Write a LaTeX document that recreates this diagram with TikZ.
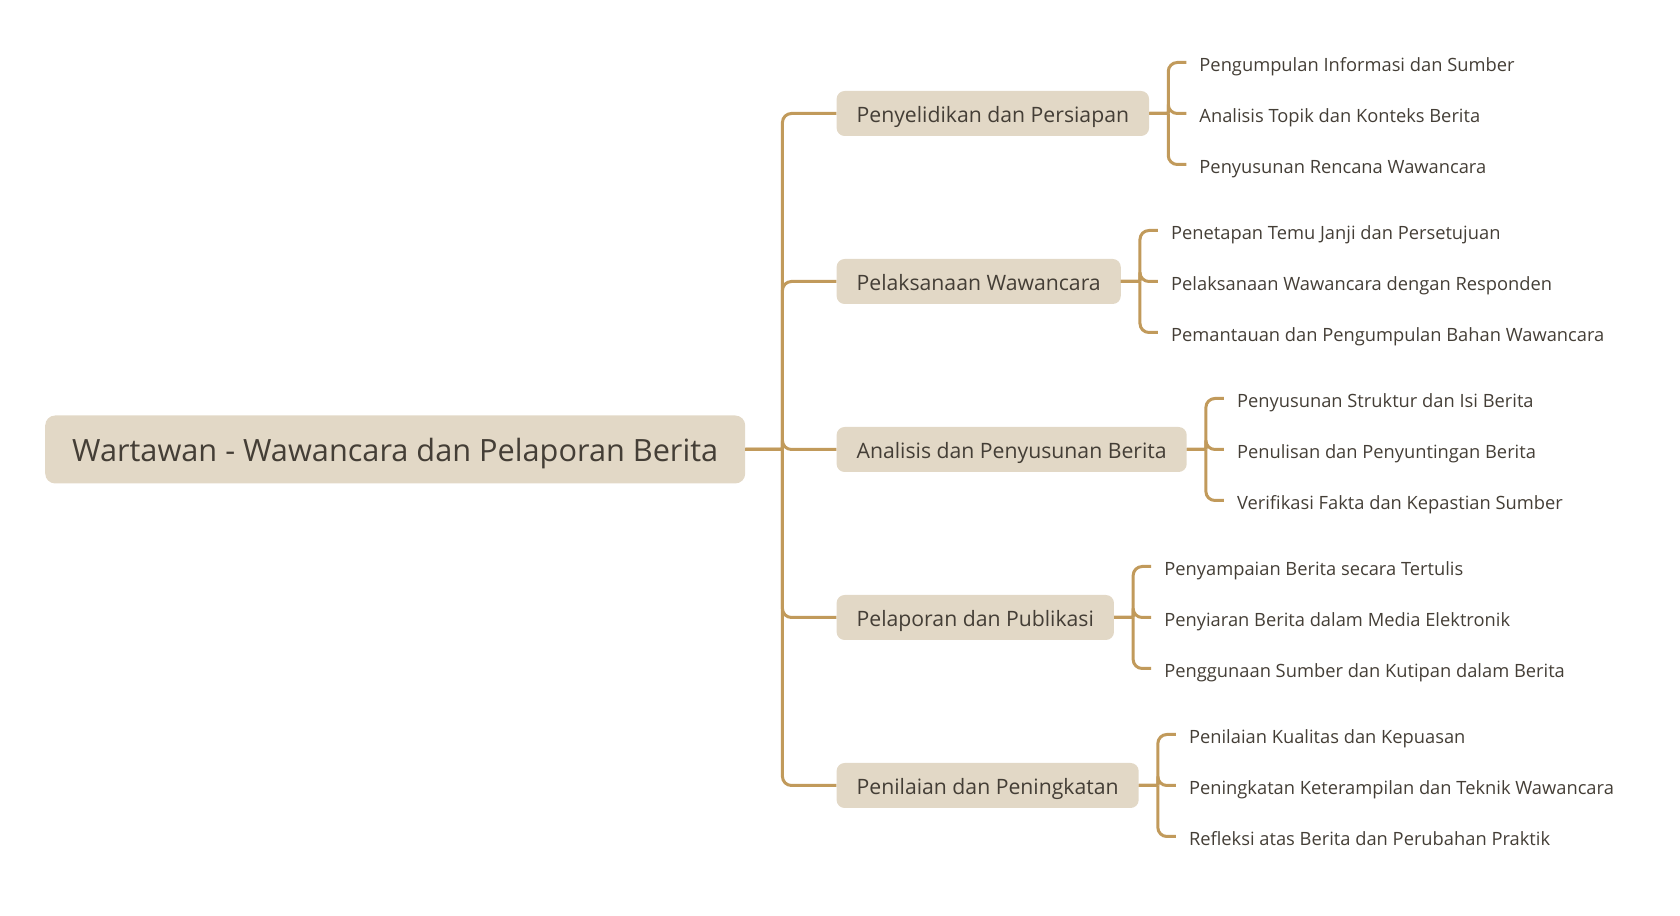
\documentclass[tikz,border=0pt]{standalone}
\usepackage{fontspec}
\setmainfont{Open Sans}
\definecolor{linegold}{RGB}{193,154,91}
\definecolor{boxfill}{RGB}{226,216,198}
\definecolor{ink}{RGB}{68,62,54}
\begin{document}
\begin{tikzpicture}[
x=1pt,y=1pt,
grow'=right,
growth parent anchor=east,
every node/.style={text=ink,anchor=west},
edge from parent/.style={draw=linegold,line width=3pt,rounded corners=9pt},
level 1/.style={level distance=91pt,sibling distance=168pt,
	edge from parent path={(\tikzparentnode.east) -- ++(37pt,0) (\tikzparentnode.east) ++(37pt,0) |- (\tikzchildnode.west)}},
level 2/.style={level distance=37pt,sibling distance=51pt,
	edge from parent path={(\tikzparentnode.east) -- ++(19pt,0) (\tikzparentnode.east) ++(19pt,0) |- (\tikzchildnode.west)}},
rootbox/.style={fill=boxfill,rounded corners=10pt,minimum height=68pt,inner xsep=27pt,text height=32pt,text depth=8pt,font=\fontsize{30.7}{36}\selectfont},
topicbox/.style={fill=boxfill,rounded corners=8pt,minimum height=45pt,inner xsep=20pt,text height=24pt,text depth=6pt,font=\fontsize{21.2}{25}\selectfont},
leaf/.style={inner xsep=13pt,inner ysep=2pt,text height=22pt,text depth=4pt,font=\fontsize{18.3}{22}\selectfont}
]
\useasboundingbox (0,0) rectangle (1680,915);
\node(wartawan)[rootbox] at (45,465.5) {Wartawan - Wawancara dan Pelaporan Berita}
child{
	node(selidik)[topicbox]{Penyelidikan dan Persiapan}
	child{node(selidik1)[leaf]{Pengumpulan Informasi dan Sumber}}
	child{node(selidik2)[leaf]{Analisis Topik dan Konteks Berita}}
	child{node(selidik3)[leaf]{Penyusunan Rencana Wawancara}}
}
child{
	node(laksana)[topicbox]{Pelaksanaan Wawancara}
	child{node(laksana1)[leaf]{Penetapan Temu Janji dan Persetujuan}}
	child{node(laksana2)[leaf]{Pelaksanaan Wawancara dengan Responden}}
	child{node(laksana3)[leaf]{Pemantauan dan Pengumpulan Bahan Wawancara}}
}
child{
	node(analisis)[topicbox]{Analisis dan Penyusunan Berita}
	child{node(analisis1)[leaf]{Penyusunan Struktur dan Isi Berita}}
	child{node(analisis2)[leaf]{Penulisan dan Penyuntingan Berita}}
	child{node(analisis3)[leaf]{Verifikasi Fakta dan Kepastian Sumber}}
}
child{
	node(lapor)[topicbox]{Pelaporan dan Publikasi}
	child{node(lapor1)[leaf]{Penyampaian Berita secara Tertulis}}
	child{node(lapor2)[leaf]{Penyiaran Berita dalam Media Elektronik}}
	child{node(lapor3)[leaf]{Penggunaan Sumber dan Kutipan dalam Berita}}
}
child{
	node(nilai)[topicbox]{Penilaian dan Peningkatan}
	child{node(nilai1)[leaf]{Penilaian Kualitas dan Kepuasan}}
	child{node(nilai2)[leaf]{Peningkatan Keterampilan dan Teknik Wawancara}}
	child{node(nilai3)[leaf]{Refleksi atas Berita dan Perubahan Praktik}}
};
\end{tikzpicture}
\end{document}
